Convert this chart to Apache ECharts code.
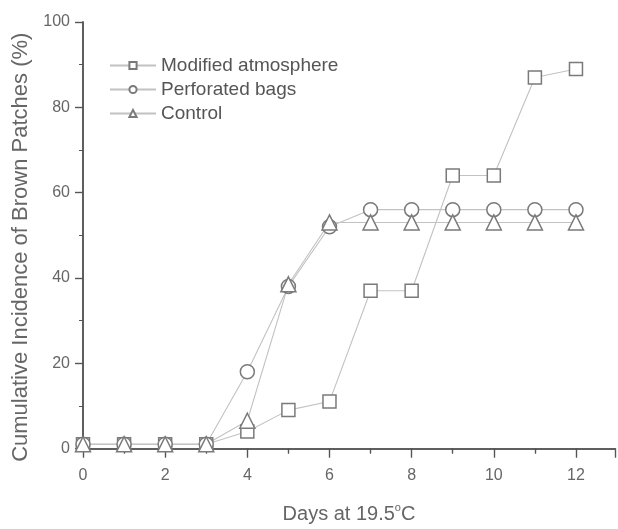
<!DOCTYPE html>
<html>
<head>
<meta charset="utf-8">
<script src="https://cdn.jsdelivr.net/npm/echarts@6/dist/echarts.min.js"></script>
<style>
  html, body { margin: 0; padding: 0; background: #fff; }
  #chart { width: 618px; height: 529px; }
</style>
</head>
<body>
<div id="chart"></div>
<script>
var chartDom = document.getElementById("chart")
var chart = echarts.init(chartDom)

// values
var days = [0, 1, 2, 3, 4, 5, 6, 7, 8, 9, 10, 11, 12]
var modified = [1, 1, 1, 1, 4, 9, 11, 37, 37, 64, 64, 87, 89]
var perforated = [1, 1, 1, 1, 18, 38, 52, 56, 56, 56, 56, 56, 56]
var control = [1, 1, 1, 1, 6.5, 38.5, 53, 53, 53, 53, 53, 53, 53]
var seriesNames = ["Modified atmosphere", "Perforated bags", "Control"]

var axisColor = "#555"
var textColor = "#666"
var font = "Liberation Sans"

function pairs(values) {
  var out = []
  for (var i = 0; i < days.length; i++) {
    out.push([days[i], values[i]])
  }
  return out
}

function makeSeries(name, values, symbol, size) {
  return {
    name: name,
    type: "line",
    data: pairs(values),
    symbol: symbol,
    symbolSize: size,
    showAllSymbol: true,
    lineStyle: { color: "#c2c2c2", width: 1.1 },
    itemStyle: { color: "#fff", borderColor: "#7a7a7a", borderWidth: 1.5 },
    emphasis: { disabled: true },
  }
}

function tickStyle(len, inside) {
  return { inside: inside, length: len, lineStyle: { color: axisColor, width: 1.2 } }
}

var option = {
  animation: false,
  backgroundColor: "#fff",
  textStyle: { fontFamily: font },
  grid: { left: 83, top: 22, right: -2, bottom: 72 },
  legend: {
    orient: "vertical",
    left: 104,
    top: 51,
    itemWidth: 46,
    itemHeight: 9,
    itemGap: 5,
    textStyle: { color: "#555", fontSize: 19, fontFamily: font },
    data: seriesNames,
  },
  xAxis: [
    {
      type: "value",
      min: 0,
      max: 12.95,
      interval: 2,
      name: "Days at 19.5{sup|o}C",
      nameLocation: "middle",
      nameGap: 54,
      nameTextStyle: {
        color: textColor,
        fontSize: 20,
        fontFamily: font,
        rich: { sup: { fontSize: 11, verticalAlign: "top", padding: [0, 0, 12, 0], color: textColor } },
      },
      axisLine: { onZero: false, lineStyle: { color: axisColor, width: 1.5 } },
      axisTick: tickStyle(9, false),
      minorTick: { show: true, splitNumber: 2, length: 5, lineStyle: { color: axisColor, width: 1.2 } },
      axisLabel: {
        color: textColor,
        fontSize: 16,
        margin: 19,
        formatter: function (v) {
          return v % 2 === 0 ? String(v) : ""
        },
      },
      splitLine: { show: false },
      minorSplitLine: { show: false },
    },
    {
      type: "value",
      position: "top",
      min: 0,
      max: 12.95,
      interval: 2,
      axisLine: { lineStyle: { color: axisColor, width: 1.5 } },
      axisTick: tickStyle(9, true),
      minorTick: { show: true, splitNumber: 2, length: 5, lineStyle: { color: axisColor, width: 1.2 } },
      axisLabel: { show: false },
      splitLine: { show: false },
    },
  ],
  yAxis: [
    {
      type: "value",
      min: 0,
      max: 100,
      interval: 20,
      name: "Cumulative Incidence of Brown Patches (%)",
      nameLocation: "middle",
      nameGap: 48,
      nameTextStyle: { color: textColor, fontSize: 22, fontFamily: font, padding: [0, 24, 0, 0] },
      axisLine: { onZero: false, lineStyle: { color: axisColor, width: 1.5 } },
      axisTick: tickStyle(8, false),
      minorTick: { show: true, splitNumber: 2, length: 4, lineStyle: { color: axisColor } },
      axisLabel: { color: textColor, fontSize: 16, margin: 13 },
      splitLine: { show: false },
    },
    {
      type: "value",
      position: "right",
      min: 0,
      max: 100,
      interval: 20,
      axisLine: { show: true, lineStyle: { color: axisColor, width: 1.5 } },
      axisTick: tickStyle(8, true),
      minorTick: { show: true, splitNumber: 2, length: 4, lineStyle: { color: axisColor } },
      axisLabel: { show: false },
      splitLine: { show: false },
    },
  ],
  series: [
    makeSeries(seriesNames[0], modified, "rect", 13),
    makeSeries(seriesNames[1], perforated, "circle", 14),
    makeSeries(seriesNames[2], control, "triangle", 15),
  ],
}

chart.setOption(option)
</script>
</body>
</html>
